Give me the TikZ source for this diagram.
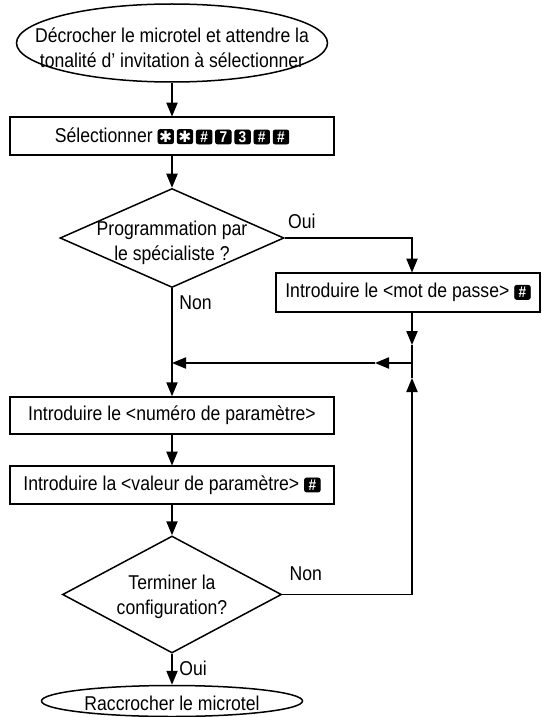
\documentclass[tikz,border=0pt]{standalone}
\usepackage{fontspec}
\setmainfont{Liberation Sans}[FakeStretch=0.88]
\newfontfamily\symfont{DejaVu Sans}
\usetikzlibrary{shapes.geometric,arrows.meta}

\tikzset{
	keycap/.style={draw=black,fill=black,text=white,rounded corners=1pt,inner sep=0pt,
		minimum width=7.8pt,minimum height=7pt,font=\bfseries\fontsize{7.8pt}{8pt}\selectfont},
}
\newcommand{\keycap}[1]{\tikz[baseline=(kc.base)]\node[keycap](kc){#1};}
\newcommand{\starkey}{\keycap{\symfont\mdseries ✱}}

\begin{document}
\begin{tikzpicture}[x=0.5pt,y=-0.5pt,line width=0.75pt,>={Triangle[length=7pt,width=5.6pt]},
	font=\fontsize{10pt}{12.5pt}\selectfont,
	stepbox/.style={draw,rectangle,inner sep=0pt,minimum width=162pt,minimum height=19pt},
	question/.style={draw,diamond,inner sep=0pt},
	endpoint/.style={draw,ellipse,inner sep=0pt}]
		\useasboundingbox (0,0) rectangle (541,717);
		\draw[color=black]
		node[endpoint,minimum width=155.5pt,minimum height=39pt,label={[align=center,yshift=-2.3pt]center:Décrocher le microtel et attendre la\\tonalité d’ invitation à sélectionner}] (start) at (172,43){}
		node[stepbox] (sel) at (172,136){Sélectionner \starkey\hspace{1.4pt}\starkey\hspace{1.4pt}\keycap{\#}\hspace{1.4pt}\keycap{7}\hspace{1.4pt}\keycap{3}\hspace{1.4pt}\keycap{\#}\hspace{1.4pt}\keycap{\#}}
		node[question,minimum width=112pt,minimum height=49.5pt,label={[align=center,yshift=-2.4pt]center:Programmation par\\le spécialiste ?}] (prog) at (172,238){}
		node[stepbox,minimum width=132pt,minimum height=19.5pt] (pass) at (408,292.5){Introduire le <mot de passe> \keycap{\#}}
		node[stepbox,minimum height=18.5pt] (num) at (172,415.5){Introduire le <numéro de paramètre>}
		node[stepbox] (val) at (172,485){Introduire la <valeur de paramètre> \keycap{\#}}
		node[question,minimum width=109.5pt,minimum height=58.5pt,label={[align=center,yshift=-1.2pt]center:Terminer la\\configuration?}] (fin) at (172,594.5){}
		node[endpoint,minimum width=130.5pt,minimum height=15.5pt,label={[yshift=-1pt]center:Raccrocher le microtel}] (stop) at (172,701){};
		\coordinate (jr) at (412,363);
		\coordinate (jl) at (172,363);
		\coordinate (pd) at (412,345);
		\coordinate (pl) at (375,363);
		\coordinate (pu) at (412,378);
		\draw [->] (start) -- (sel);
		\draw [->] (sel) -- (prog);
		\draw [->] (prog.east) node[above right,xshift=-2pt,yshift=1pt]{Oui} -| (pass.north -| jr);
		\draw [->] (prog) -- (num) node[pos=0,below right]{Non};
			\draw [->] (pass.south -| jr) -- (pd);
			\draw (pd) -- (jr);
			\draw [->] (jr) -- (pl);
			\draw [->] (pl) -- (jl);
		\draw [->] (num) -- (val);
		\draw [->] (val) -- (fin);
		\draw [->] (fin.east) node[above right,yshift=3pt]{Non} -| (pu);
			\draw (pu) -- (jr);
		\draw [->] (fin) -- (stop) node[pos=0,below right]{Oui};
\end{tikzpicture}
\end{document}
